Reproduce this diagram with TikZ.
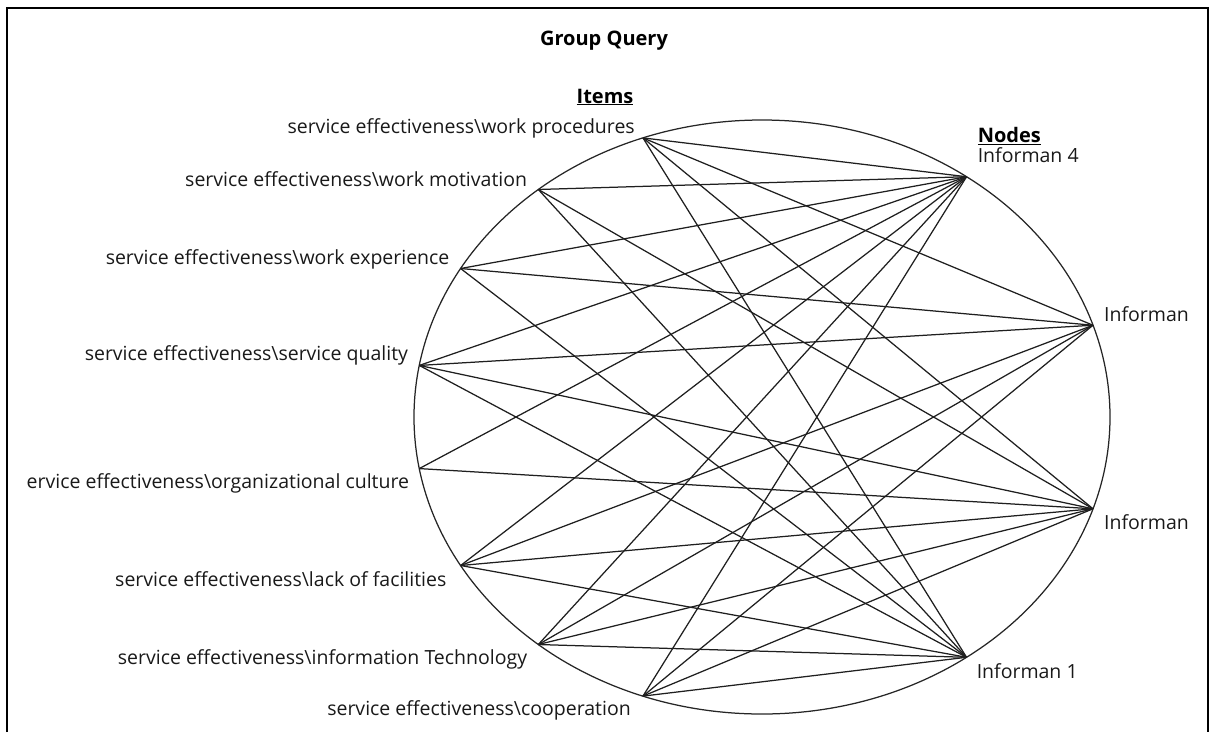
\documentclass[tikz,border=0pt]{standalone}
\usepackage{fontspec}
\setmainfont{Open Sans}
\begin{document}
\begin{tikzpicture}[x=1pt,y=-1pt,
  link/.style={line width=1.25pt, draw=black!88},
  rim/.style={line width=1.25pt, draw=black!85},
  lbl/.style={font=\fontsize{19.5}{22}\selectfont, inner sep=0pt, text=black!90},
  itemlbl/.style={lbl, anchor=east},
  nodelbl/.style={lbl, anchor=west},
  head/.style={font=\fontsize{20}{22}\selectfont\bfseries, inner sep=0pt, text=black}]
\useasboundingbox (0,0) rectangle (1210,732);
% frame
\draw[line width=2pt] (7,732) -- (7,8) -- (1208,8) -- (1208,732);
% ring
\coordinate (ctr) at (762,417);
\draw[rim] (ctr) ellipse [x radius=348pt, y radius=297pt];
% points on the ring: items on the left, informants on the right
\foreach \n/\a in {P/110, M/130, E/150, Q/170, C/190, F/210, T/230, Co/250,
                   I4/54, IU/18, IL/-18, I1/-54}
  \path (ctr) ++({348*cos(\a)},{-297*sin(\a)}) coordinate (\n);
% links
\foreach \s/\ts in {P/{I4,IU,IL,I1}, M/{I4,IL,I1}, E/{I4,IU,I1},
                    Q/{I4,IU,IL,I1}, C/{I4,IL}, F/{I4,IU,IL,I1},
                    T/{I4,IU,IL,I1}, Co/{I4,IU,IL,I1}}
  \foreach \t in \ts
    \draw[link] (\s) -- (\t);
% title and headings
\node[head] (title) at (604,41) {Group Query};
\node[head] (items) at (605,97) {\underline{Items}};
% item labels
\node[itemlbl] (lP)  at ([shift={(-8,-10)}]P)   {service effectiveness\textbackslash work procedures};
\node[itemlbl] (lM)  at ([shift={(-11,-10)}]M)  {service effectiveness\textbackslash work motivation};
\node[itemlbl] (lE)  at ([shift={(-11,-9)}]E)   {service effectiveness\textbackslash work experience};
\node[itemlbl] (lQ)  at ([shift={(-11,-10)}]Q)  {service effectiveness\textbackslash service quality};
\node[itemlbl] (lC)  at ([shift={(-10,15)}]C)   {ervice effectiveness\textbackslash organizational culture};
\node[itemlbl] (lF)  at ([shift={(-14,14)}]F)   {service effectiveness\textbackslash lack of facilities};
\node[itemlbl] (lT)  at ([shift={(-11,15)}]T)   {service effectiveness\textbackslash information Technology};
\node[itemlbl] (lCo) at ([shift={(-12,14)}]Co)  {service effectiveness\textbackslash cooperation};
% informant labels
\node[head, anchor=west] (nodes) at ([shift={(11,-41)}]I4) {\underline{Nodes}};
\node[nodelbl] (lI4) at ([shift={(11,-22)}]I4) {Informan 4};
\node[nodelbl] (lIU) at ([shift={(11,-11)}]IU) {Informan};
\node[nodelbl] (lIL) at ([shift={(11,13)}]IL)  {Informan};
\node[nodelbl] (lI1) at ([shift={(10,14)}]I1)  {Informan 1};
\end{tikzpicture}
\end{document}
